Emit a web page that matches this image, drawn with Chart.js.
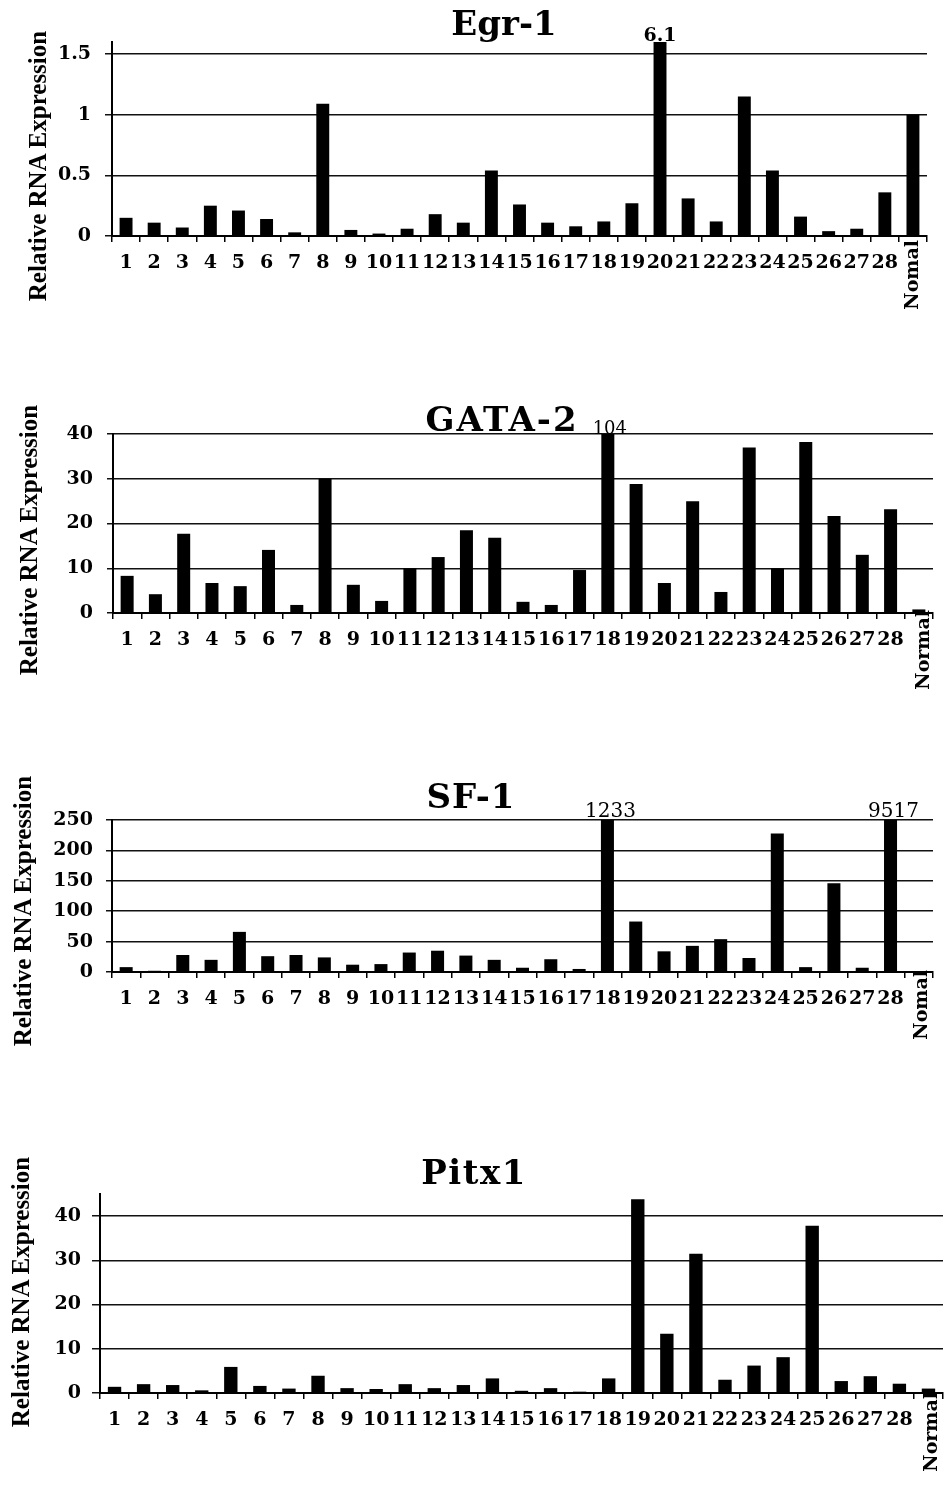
<!DOCTYPE html>
<html><head><meta charset="utf-8">
<script src="https://cdn.jsdelivr.net/npm/chart.js@4"></script>
<style>
html,body{margin:0;padding:0;background:#fff;}
body{width:944px;height:1486px;position:relative;overflow:hidden;}
canvas{position:absolute;left:0;}
.t{position:absolute;font-family:'DejaVu Serif',serif;font-weight:bold;font-size:34px;line-height:1;transform:translate(-50%,-50%);white-space:nowrap;color:#000;}
.yt{position:absolute;font-family:'Liberation Serif',serif;font-weight:bold;font-size:25px;line-height:1;white-space:nowrap;transform:translate(-50%,-50%) rotate(-90deg);color:#000;}
</style></head><body>
<canvas id="c1" width="944" height="330" style="top:0px"></canvas>
<canvas id="c2" width="944" height="380" style="top:330px"></canvas>
<canvas id="c3" width="944" height="380" style="top:710px"></canvas>
<canvas id="c4" width="944" height="396" style="top:1090px"></canvas>
<div class="t" style="left:504px;top:23px">Egr-1</div>
<div class="t" style="left:502px;top:419px;letter-spacing:2px">GATA-2</div>
<div class="t" style="left:471px;top:796px;letter-spacing:1px">SF-1</div>
<div class="t" style="left:474px;top:1172px;letter-spacing:1.5px">Pitx1</div>
<div class="yt" style="left:37px;top:166px">Relative RNA Expression</div>
<div class="yt" style="left:28px;top:540px">Relative RNA Expression</div>
<div class="yt" style="left:22px;top:911px">Relative RNA Expression</div>
<div class="yt" style="left:20px;top:1292px">Relative RNA Expression</div>
<script>
const caseLabels = ['1','2','3','4','5','6','7','8','9','10','11','12','13','14','15','16','17','18','19','20','21','22','23','24','25','26','27','28'];
const normalLabels = ['Nomal','Normal','Nomal','Normal'];

const egr1Values  = [0.15,0.11,0.07,0.25,0.21,0.14,0.03,1.09,0.05,0.02,0.06,0.18,0.11,0.54,0.26,0.11,0.08,0.12,0.27,1.6,0.31,0.12,1.15,0.54,0.16,0.04,0.06,0.36,1.0];
const gata2Values = [8.3,4.2,17.7,6.7,6.0,14.1,1.8,30,6.3,2.7,10,12.5,18.5,16.8,2.5,1.8,9.6,40,28.8,6.7,25,4.7,37,10,38.2,21.7,13,23.2,0.8];
const sf1Values   = [8,2,28,20,66,26,28,24,12,13,32,35,27,20,7,21,5,250,83,34,43,54,23,228,8,146,7,250,1];
const pitx1Values = [1.4,2.0,1.8,0.6,5.9,1.6,1.0,3.9,1.1,0.9,2.0,1.1,1.8,3.3,0.5,1.1,0.3,3.3,43.8,13.4,31.5,3.0,6.2,8.1,37.8,2.7,3.8,2.1,1.0];

// y tick labels for each panel
const egr1Ticks  = [0, 0.5, 1, 1.5];
const gata2Ticks = [0, 10, 20, 30, 40];
const sf1Ticks   = [0, 50, 100, 150, 200, 250];
const pitx1Ticks = [0, 10, 20, 30, 40];

// off-scale bars: index and real value printed above
const egr1Notes  = [{index:19, text:'6.1'}];
const gata2Notes = [{index:17, text:'104'}];
const sf1Notes   = [{index:17, text:'1233'},{index:27, text:'9517'}];
const pitx1Notes = [];

const overlay = {
  id:'overlay',
  afterDraw(chart, args, o){
    const ctx = chart.ctx, xs = chart.scales.x, ys = chart.scales.y;
    ctx.save();
    ctx.fillStyle = '#000';
    ctx.font = o.noteFont;
    ctx.textAlign = 'center';
    ctx.textBaseline = 'alphabetic';
    o.notes.forEach(n => {
      ctx.fillText(n.text, xs.getPixelForValue(n.index) + o.noteDx, ys.top + o.noteDy);
    });
    ctx.translate(xs.getPixelForValue(o.normalIndex) + o.normalDx, ys.bottom + o.normalDy);
    ctx.rotate(-Math.PI/2);
    ctx.textAlign = 'right';
    ctx.textBaseline = 'middle';
    ctx.font = 'bold 19px "DejaVu Serif"';
    ctx.fillText(o.normalLabel, 0, 0);
    ctx.restore();
  }
};

function makeChart(id, values, yTicks, normalLabel, notes, g){
  const labels = caseLabels.concat([normalLabel]);
  const canvas = document.getElementById(id);
  const H = canvas.height;
  return new Chart(canvas, {
    type:'bar',
    data:{labels, datasets:[{data:values, backgroundColor:'#000', borderWidth:0,
      barPercentage:0.46, categoryPercentage:1.0}]},
    options:{
      responsive:false, animation:false,
      layout:{padding:{top:g.top, right:944-g.right, left:0, bottom:0}},
      plugins:{legend:{display:false}, tooltip:{enabled:false}, title:{display:false},
        overlay:{notes, noteFont:g.noteFont, noteDx:g.noteDx, noteDy:g.noteDy, normalIndex:28, normalLabel,
          normalDx:g.normalDx, normalDy:g.normalDy}},
      scales:{
        x:{
          afterFit:s=>{s.height = H - g.bottom;},
          grid:{offset:true, drawOnChartArea:false, drawTicks:true, tickLength:6, color:'#000', lineWidth:1.5},
          border:{display:true, color:'#000', width:2},
          ticks:{autoSkip:false, maxRotation:0, minRotation:0, padding:10, color:'#000',
            font:{family:'DejaVu Serif', weight:'bold', size:19},
            callback:(v,i)=> i < caseLabels.length ? caseLabels[i] : ''}
        },
        y:{
          min:0, max:g.max,
          afterFit:s=>{s.width = g.left;},
          afterBuildTicks:s=>{s.ticks = yTicks.map(v=>({value:v}));},
          grid:{color:'#111', lineWidth:1.5, drawTicks:true, tickLength:g.tickLen},
          border:{display:true, color:'#000', width:2},
          ticks:{padding:g.pad, color:'#000', callback:v=>String(v),
            font:{family:'DejaVu Serif', weight:'bold', size:19}}
        }
      }
    },
    plugins:[overlay]
  });
}

makeChart('c1', egr1Values, egr1Ticks, normalLabels[0], egr1Notes,
  {top:42, bottom:236, left:112, right:927, max:1.6, tickLen:7, pad:14,
   noteFont:'bold 19px "DejaVu Serif"', noteDx:0, noteDy:-1, normalDx:0, normalDy:4});
makeChart('c2', gata2Values, gata2Ticks, normalLabels[1], gata2Notes,
  {top:104, bottom:283, left:113, right:933, max:40, tickLen:6, pad:14,
   noteFont:'18px "DejaVu Serif"', noteDx:2, noteDy:0, normalDx:5, normalDy:-3});
makeChart('c3', sf1Values, sf1Ticks, normalLabels[2], sf1Notes,
  {top:110, bottom:262, left:112, right:933, max:250, tickLen:6, pad:13,
   noteFont:'20px "DejaVu Serif"', noteDx:3, noteDy:-3, normalDx:3, normalDy:-2});
makeChart('c4', pitx1Values, pitx1Ticks, normalLabels[3], pitx1Notes,
  {top:104, bottom:303, left:100, right:943, max:45, tickLen:8, pad:11,
   noteFont:'18px "DejaVu Serif"', noteDx:0, noteDy:-1, normalDx:4, normalDy:-1});
</script>
</body></html>
